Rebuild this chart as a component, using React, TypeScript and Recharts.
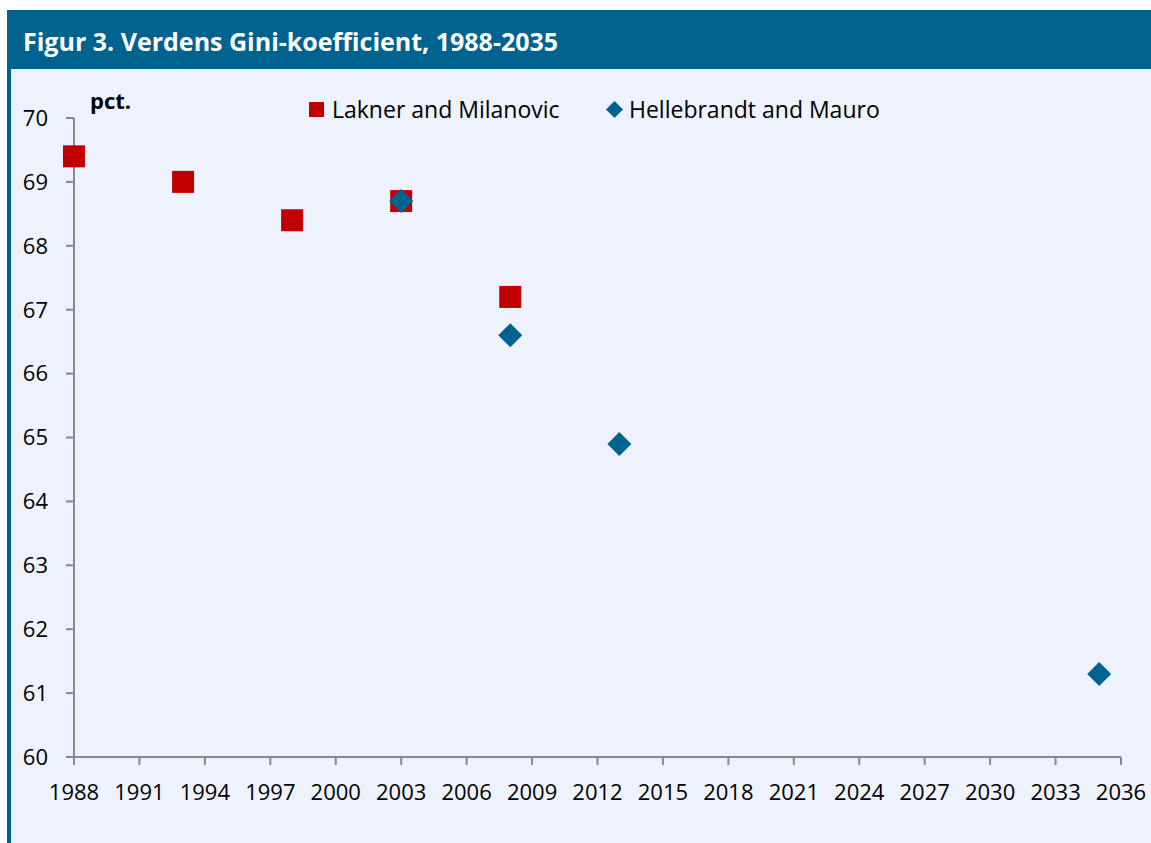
import React from "react";
import { ScatterChart, Scatter, XAxis, YAxis } from "recharts";

const titleText = "Figur 3. Verdens Gini-koefficient, 1988-2035";
const unitLabel = "pct.";
const seriesNames = ["Lakner and Milanovic", "Hellebrandt and Mauro"];

const laknerYears = [1988, 1993, 1998, 2003, 2008];
const laknerValues = [69.4, 69.0, 68.4, 68.7, 67.2];

const hellebrandtYears = [2003, 2008, 2013, 2035];
const hellebrandtValues = [68.7, 66.6, 64.9, 61.3];

const xTicks = [1988, 1991, 1994, 1997, 2000, 2003, 2006, 2009, 2012, 2015, 2018, 2021, 2024, 2027, 2030, 2033, 2036];
const yTicks = [60, 61, 62, 63, 64, 65, 66, 67, 68, 69, 70];

const laknerData = laknerYears.map((year, i) => ({ year, value: laknerValues[i] }));
const hellebrandtData = hellebrandtYears.map((year, i) => ({ year, value: hellebrandtValues[i] }));

const BLUE = "#00628F";
const RED = "#C00000";
const BG = "#EEF2FD";
const AXIS = "#898989";
const FONT = "'Open Sans', sans-serif";

const SquareShape = (props: any) => {
  const { cx, cy } = props;
  if (cx == null || cy == null) return null;
  return <rect x={cx - 11} y={cy - 11} width={22} height={22} fill={RED} />;
};

const DiamondShape = (props: any) => {
  const { cx, cy } = props;
  if (cx == null || cy == null) return null;
  const r = 12;
  return (
    <polygon
      points={`${cx},${cy - r} ${cx + r},${cy} ${cx},${cy + r} ${cx - r},${cy}`}
      fill={BLUE}
    />
  );
};

export default function App() {
  return (
    <div
      style={{
        position: "absolute",
        left: 0,
        top: 0,
        width: 1151,
        height: 843,
        background: "#ffffff",
        fontFamily: FONT,
        overflow: "hidden",
      }}
    >
      {/* light body */}
      <div style={{ position: "absolute", left: 7, top: 10, width: 1144, height: 833, background: BG }} />
      {/* left border */}
      <div style={{ position: "absolute", left: 7, top: 10, width: 4, height: 833, background: BLUE }} />
      {/* header */}
      <div
        style={{
          position: "absolute",
          left: 7,
          top: 10,
          width: 1144,
          height: 59,
          background: BLUE,
          color: "#ffffff",
          fontWeight: 700,
          fontSize: 25,
          lineHeight: "62px",
          paddingLeft: 16,
          boxSizing: "border-box",
          whiteSpace: "nowrap",
        }}
      >
        {titleText}
      </div>

      <div style={{ position: "absolute", left: 0, top: 0 }}>
        <ScatterChart width={1151} height={843} margin={{ top: 118, right: 30, bottom: 56, left: 0 }}>
          <XAxis
            type="number"
            dataKey="year"
            domain={[1988, 2036]}
            ticks={xTicks}
            interval={0}
            height={30}
            tickSize={8}
            tickMargin={19}
            axisLine={{ stroke: AXIS, strokeWidth: 2 }}
            tickLine={{ stroke: AXIS, strokeWidth: 2 }}
            tick={{ fill: "#000000", fontSize: 22, fontFamily: FONT }}
          />
          <YAxis
            type="number"
            dataKey="value"
            domain={[60, 70]}
            ticks={yTicks}
            interval={0}
            width={74}
            tickSize={8}
            tickMargin={18}
            axisLine={{ stroke: AXIS, strokeWidth: 2 }}
            tickLine={{ stroke: AXIS, strokeWidth: 2 }}
            tick={{ fill: "#000000", fontSize: 22, fontFamily: FONT }}
          />
          <Scatter
            name={seriesNames[0]}
            data={laknerData}
            shape={SquareShape}
            isAnimationActive={false}
          />
          <Scatter
            name={seriesNames[1]}
            data={hellebrandtData}
            shape={DiamondShape}
            isAnimationActive={false}
          />
        </ScatterChart>
      </div>

      {/* unit label */}
      <div
        style={{
          position: "absolute",
          left: 90,
          top: 88,
          fontSize: 22,
          fontWeight: 700,
          color: "#000000",
          lineHeight: "24px",
        }}
      >
        {unitLabel}
      </div>

      {/* legend */}
      <div style={{ position: "absolute", left: 309, top: 96, height: 26, display: "flex", alignItems: "center" }}>
        <svg width={15} height={15} style={{ display: "block" }}>
          <rect x={0} y={0} width={15} height={15} fill={RED} />
        </svg>
        <span style={{ marginLeft: 8, fontSize: 23, color: "#000000", lineHeight: "26px", whiteSpace: "nowrap" }}>
          {seriesNames[0]}
        </span>
      </div>
      <div style={{ position: "absolute", left: 606, top: 96, height: 26, display: "flex", alignItems: "center" }}>
        <svg width={17} height={17} style={{ display: "block" }}>
          <polygon points="8.5,0 17,8.5 8.5,17 0,8.5" fill={BLUE} />
        </svg>
        <span style={{ marginLeft: 6, fontSize: 23, color: "#000000", lineHeight: "26px", whiteSpace: "nowrap" }}>
          {seriesNames[1]}
        </span>
      </div>
    </div>
  );
}
